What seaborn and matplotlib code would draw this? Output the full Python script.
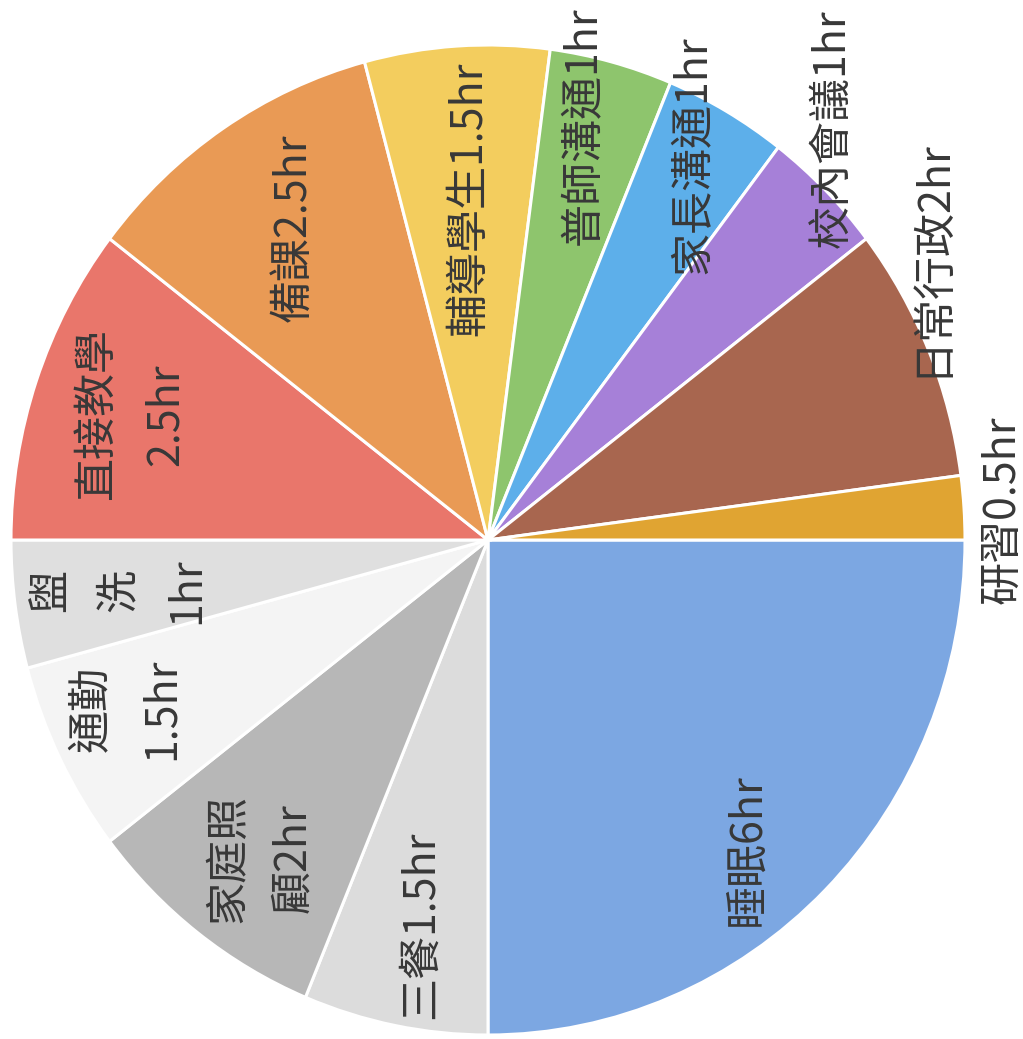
import matplotlib
matplotlib.use("Agg")
import matplotlib.pyplot as plt
import seaborn as sns
import numpy as np

# daily hours, clockwise from the first slice
activities = ["睡眠", "三餐", "家庭照顧", "通勤", "盥洗", "直接教學", "備課",
              "輔導學生", "普師溝通", "家長溝通", "校內會議", "日常行政", "研習"]
hours = [6, 1.5, 2, 1.5, 1, 2.5, 2.5, 1.5, 1, 1, 1, 2, 0.5]
labels = ["睡眠6hr", "三餐1.5hr", "家庭照\n顧2hr", "通勤\n1.5hr", "盥\n洗\n1hr",
          "直接教學\n2.5hr", "備課2.5hr", "輔導學生1.5hr", "普師溝通1hr",
          "家長溝通1hr", "校內會議1hr", "日常行政2hr", "研習0.5hr"]
colors = ["#7CA7E2", "#DCDCDC", "#B7B7B7", "#F4F4F4", "#DFDFDF", "#E9766B",
          "#E99A55", "#F3CD5E", "#8EC56D", "#5DAFEA", "#A680D8", "#A8664F",
          "#E0A432"]

# label placement (radius fraction, angle shift in degrees, line spacing)
lab_r = [0.83, 0.79, 0.80, 0.83, 0.78, 0.79, 0.75, 0.69, 0.86, 0.89, 1.10, 1.09, 1.08]
lab_da = [-4, 1, 1, -2, 0, 0, -1, -0.5, 1.5, 1, 4, 9, -0.5]
lab_ls = [1.2, 1.2, 1.6, 1.75, 1.7, 1.75, 1.2, 1.2, 1.2, 1.2, 1.2, 1.2, 1.2]

sns.set_theme(style="white")
plt.rcParams["font.family"] = ["Noto Sans CJK TC", "DejaVu Sans"]

fig = plt.figure(figsize=(10.23, 10.39), dpi=100)
ax = fig.add_axes([0, 0, 1, 1])

wedges, _ = ax.pie(hours, colors=colors, startangle=0, counterclock=False,
                   wedgeprops=dict(edgecolor="white", linewidth=2.2))

for w, lab, r, da, ls in zip(wedges, labels, lab_r, lab_da, lab_ls):
    mid = np.deg2rad((w.theta1 + w.theta2) / 2 + da)
    ax.text(r * np.cos(mid), r * np.sin(mid), lab, rotation=90,
            ha="center", va="center", multialignment="center",
            fontsize=31, color="#383838", linespacing=ls)

ax.set_aspect("auto")
ax.set_xlim(-488 / 477, (1023 - 488) / 477)
ax.set_ylim(-(1039 - 540) / 495, 540 / 495)
ax.axis("off")

fig.savefig("out.png", dpi=100, facecolor="white")
